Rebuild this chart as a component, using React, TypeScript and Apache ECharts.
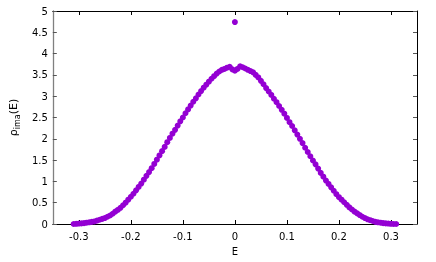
import React, { useEffect, useRef } from "react";
import * as echarts from "echarts";

const energies: number[] = [
  -0.31, -0.305, -0.3, -0.295, -0.29, -0.285, -0.28, -0.275, -0.27, -0.265,
  -0.26, -0.255, -0.25, -0.245, -0.24, -0.235, -0.23, -0.225, -0.22, -0.215,
  -0.21, -0.205, -0.2, -0.195, -0.19, -0.185, -0.18, -0.175, -0.17, -0.165,
  -0.16, -0.155, -0.15, -0.145, -0.14, -0.135, -0.13, -0.125, -0.12, -0.115,
  -0.11, -0.105, -0.1, -0.095, -0.09, -0.085, -0.08, -0.075, -0.07, -0.065,
  -0.06, -0.055, -0.05, -0.045, -0.04, -0.035, -0.03, -0.025, -0.02, -0.015,
  -0.01, -0.005, 0.0, 0.005, 0.01, 0.015, 0.02, 0.025, 0.03, 0.035,
  0.04, 0.045, 0.05, 0.055, 0.06, 0.065, 0.07, 0.075, 0.08, 0.085,
  0.09, 0.095, 0.1, 0.105, 0.11, 0.115, 0.12, 0.125, 0.13, 0.135,
  0.14, 0.145, 0.15, 0.155, 0.16, 0.165, 0.17, 0.175, 0.18, 0.185,
  0.19, 0.195, 0.2, 0.205, 0.21, 0.215, 0.22, 0.225, 0.23, 0.235,
  0.24, 0.245, 0.25, 0.255, 0.26, 0.265, 0.27, 0.275, 0.28, 0.285,
  0.29, 0.295, 0.3, 0.305, 0.31,
];

const rhoIma: number[] = [
  0.0, 0.005, 0.01, 0.015, 0.02, 0.03, 0.04, 0.05, 0.06, 0.08,
  0.1, 0.12, 0.14, 0.17, 0.2, 0.24, 0.29, 0.33, 0.38, 0.44,
  0.5, 0.57, 0.64, 0.71, 0.79, 0.87, 0.95, 1.04, 1.13, 1.22,
  1.31, 1.41, 1.51, 1.61, 1.71, 1.81, 1.92, 2.02, 2.12, 2.21,
  2.31, 2.41, 2.5, 2.6, 2.69, 2.78, 2.87, 2.95, 3.04, 3.12,
  3.2, 3.27, 3.34, 3.41, 3.47, 3.53, 3.58, 3.62, 3.64, 3.67,
  3.69, 3.63, 3.6, 3.64, 3.7, 3.68, 3.65, 3.62, 3.59, 3.56,
  3.5, 3.44, 3.36, 3.28, 3.19, 3.11, 3.03, 2.94, 2.86, 2.77,
  2.68, 2.59, 2.49, 2.39, 2.3, 2.2, 2.1, 2.0, 1.9, 1.79,
  1.69, 1.59, 1.49, 1.4, 1.3, 1.2, 1.11, 1.02, 0.94, 0.86,
  0.78, 0.7, 0.63, 0.57, 0.51, 0.45, 0.39, 0.34, 0.29, 0.25,
  0.21, 0.17, 0.14, 0.11, 0.09, 0.07, 0.05, 0.04, 0.03, 0.02,
  0.015, 0.01, 0.005, 0.0, 0.0,
];

const outlierE: number[] = [0.0];
const outlierRho: number[] = [4.74];

const xTicks: number[] = [-0.3, -0.2, -0.1, 0, 0.1, 0.2, 0.3];

export default function App() {
  const ref = useRef<HTMLDivElement>(null);
  useEffect(() => {
    if (!ref.current) return;
    const chart = echarts.init(ref.current, null, { renderer: "svg" });
    const font = "DejaVu Sans";
    const pts = energies.map((e, i) => [e, rhoIma[i]]);
    outlierE.forEach((e, i) => pts.push([e, outlierRho[i]]));
    const lineStyle = { color: "#000", width: 1 };
    chart.setOption({
      animation: false,
      grid: { left: 49, right: 19, top: 11, bottom: 38, containLabel: false },
      xAxis: [
        {
          type: "value",
          min: -0.35,
          max: 0.35,
          position: "bottom",
          axisLine: { show: true, onZero: false, lineStyle },
          axisTick: { show: true, inside: true, length: 4, customValues: xTicks, lineStyle },
          axisLabel: {
            show: true,
            customValues: xTicks,
            margin: 7,
            color: "#000",
            fontFamily: font,
            fontSize: 10,
            formatter: (v: number) => String(Math.round(v * 10) / 10),
          },
          splitLine: { show: false },
          name: "E",
          nameLocation: "middle",
          nameGap: 22,
          nameTextStyle: { color: "#000", fontFamily: font, fontSize: 10 },
        },
        {
          type: "value",
          min: -0.35,
          max: 0.35,
          position: "top",
          axisLine: { show: true, onZero: false, lineStyle },
          axisTick: { show: true, inside: true, length: 4, customValues: xTicks, lineStyle },
          axisLabel: { show: false },
          splitLine: { show: false },
        },
      ],
      yAxis: [
        {
          type: "value",
          min: 0,
          max: 5,
          interval: 0.5,
          position: "left",
          axisLine: { show: true, onZero: false, lineStyle: { color: "#808080", width: 1.3 } },
          axisTick: { show: true, inside: true, length: 4, lineStyle: { color: "#555", width: 1 } },
          axisLabel: { color: "#000", fontFamily: font, fontSize: 10, margin: 5 },
          splitLine: { show: false },
          name: "{a|ρ}{b|ima}{a|(E)}",
          nameLocation: "middle",
          nameRotate: 90,
          nameGap: 31,
          nameTextStyle: {
            color: "#000",
            fontFamily: font,
            fontSize: 11,
            rich: {
              a: { fontFamily: font, fontSize: 11, color: "#000", lineHeight: 15 },
              b: {
                fontFamily: font,
                fontSize: 8,
                color: "#000",
                lineHeight: 15,
                verticalAlign: "bottom",
                padding: [5, 0, 0, 0],
              },
            },
          },
        },
        {
          type: "value",
          min: 0,
          max: 5,
          interval: 0.5,
          position: "right",
          axisLine: { show: true, onZero: false, lineStyle },
          axisTick: { show: true, inside: true, length: 4, lineStyle: { color: "#555", width: 1 } },
          axisLabel: { show: false },
          splitLine: { show: false },
        },
      ],
      series: [
        {
          type: "scatter",
          xAxisIndex: 0,
          yAxisIndex: 0,
          data: pts,
          symbol: "circle",
          symbolSize: 6,
          itemStyle: { color: "#9400D3", opacity: 1 },
          clip: false,
        },
      ],
    });
    return () => chart.dispose();
  }, []);
  return (
    <div
      ref={ref}
      style={{ position: "fixed", left: 0, top: 0, width: 436, height: 262 }}
    />
  );
}
